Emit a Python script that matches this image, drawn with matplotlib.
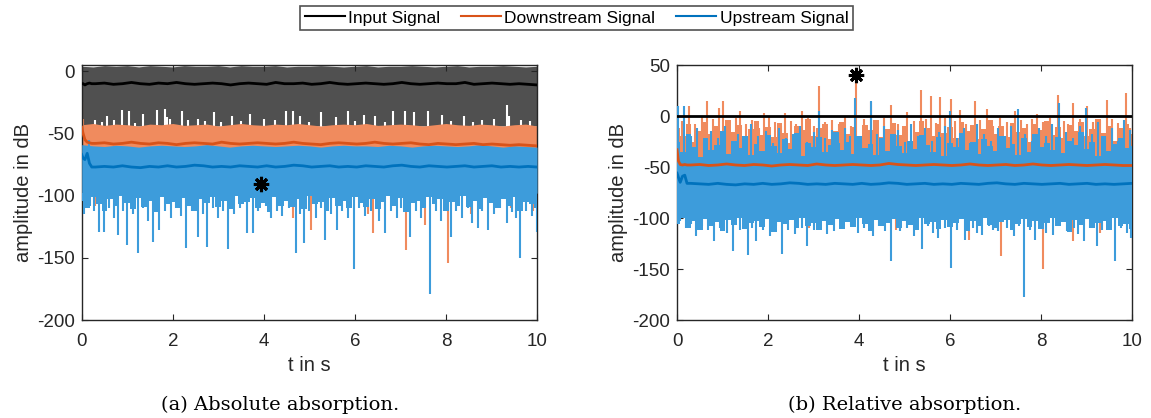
import numpy as np
import matplotlib
matplotlib.use("Agg")
import matplotlib.pyplot as plt

plt.rcParams['font.family'] = ['Liberation Sans', 'DejaVu Sans']
plt.rcParams['axes.unicode_minus'] = False

# time grids (s)
t_env = np.linspace(0, 10, 41)
t_hair = np.linspace(0, 10, 81)
t_mean = np.concatenate([[0, 0.03, 0.07, 0.12, 0.17, 0.22], np.linspace(0.3, 10, 50)])

# ---------------- (a) absolute ----------------
grey_top_a = [4, 3.5, 4.5, 4, 4.5, 3.5, 4.5, 4, 3.5, 4.5, 4, 4, 4.5, 3.5, 4.5, 4, 4, 4.5, 3.5, 4,
              4, 4.5, 4, 3.5, 4, 4.5, 3.5, 4, 4, 4.5, 4, 3.5, 4, 4.5, 3.5, 4, 4, 4.5, 4, 3.5, 4]
grey_floor_a = -44
# white gaps along the lower edge of the input signal (t, top of gap)
grey_gaps_a = [(0.29, -39), (0.56, -36), (0.70, -39), (0.88, -31), (1.03, -32), (1.17, -42),
               (1.35, -34), (1.66, -31), (1.82, -30), (1.88, -37), (1.93, -38), (2.21, -32),
               (2.33, -39), (2.56, -38), (2.91, -33), (3.30, -36), (3.70, -34), (4.01, -38),
               (4.24, -39), (4.48, -32), (4.64, -32), (4.79, -36), (5.26, -33), (5.58, -37),
               (5.85, -32), (6.20, -35), (6.44, -36), (6.83, -32), (7.10, -32), (7.30, -33),
               (7.61, -32), (7.92, -35), (8.39, -36), (8.79, -39), (9.06, -38), (9.33, -27),
               (9.38, -36), (9.65, -39), (0.45, -41), (2.70, -40), (3.05, -41), (3.50, -40),
               (5.00, -41), (6.00, -40), (6.65, -41), (8.10, -40), (8.60, -41), (9.85, -40)]

orange_top_a = [-43, -42, -43.5, -42.5, -43, -44, -42.5, -43, -42, -43.5,
                -43, -42.5, -44, -43, -42, -43, -43.5, -42.5, -43, -42,
                -43, -44, -43, -42.5, -43, -42, -43.5, -43, -42.5, -43,
                -44, -43, -42, -43, -43.5, -42.5, -43, -44, -43, -42.5, -44]
orange_floor_a = -62
orange_up_a = [(0.01, -25), (0.03, -38)]
orange_dn_a = [(0.30, -108), (1.90, -107), (3.92, -107), (4.65, -118), (5.03, -128),
               (6.28, -115), (6.40, -130), (7.13, -144), (7.53, -124), (8.04, -154),
               (8.55, -115), (9.42, -110), (9.90, -112)]

blue_top_a = [-59, -60, -60.5, -59.5, -60, -61, -60, -59.5, -60, -60.5,
              -60, -59, -60, -61, -60, -59.5, -60, -60.5, -60, -59.5,
              -60, -61, -60, -59.5, -60, -60, -60.5, -59.5, -60, -61,
              -60, -59.5, -60, -60.5, -60, -59, -60, -61, -60, -60.5, -61]
blue_core_a = -98
blue_bot_a = [-104, -110, -101, -107, -112, -103, -108, -100, -106, -111,
              -102, -109, -104, -113, -101, -107, -105, -110, -102, -108,
              -112, -103, -106, -101, -109, -104, -111, -100, -107, -105,
              -102, -110, -106, -113, -101, -108, -104, -109, -103, -111,
              -100, -107, -105, -112, -102, -108, -104, -110, -101, -106,
              -109, -103, -111, -105, -100, -108, -102, -113, -106, -104,
              -110, -101, -107, -103, -112, -105, -108, -100, -109, -104,
              -111, -102, -106, -110, -103, -108, -101, -112, -105, -107, -110]
blue_up_a = [(0.17, -55)]
blue_dn_a = [(0.05, -115), (0.18, -108), (0.28, -112), (0.37, -129), (0.49, -129), (0.60, -110),
             (0.70, -118), (0.80, -132), (0.90, -112), (1.00, -140), (1.12, -115), (1.23, -146),
             (1.35, -110), (1.45, -120), (1.57, -137), (1.70, -128), (1.82, -112), (1.95, -118),
             (2.08, -110), (2.18, -116), (2.29, -142), (2.42, -112), (2.56, -133), (2.66, -115),
             (2.76, -141), (2.88, -110), (3.00, -118), (3.10, -112), (3.21, -143), (3.35, -115),
             (3.48, -110), (3.62, -130), (3.77, -130), (3.88, -112), (4.05, -108), (4.15, -118),
             (4.28, -112), (4.40, -116), (4.55, -110), (4.70, -146), (4.80, -115), (4.89, -138),
             (5.00, -112), (5.15, -118), (5.25, -110), (5.34, -136), (5.48, -115), (5.61, -128),
             (5.72, -112), (5.85, -118), (5.99, -159), (6.10, -110), (6.22, -116), (6.35, -112),
             (6.52, -120), (6.67, -130), (6.80, -112), (6.92, -118), (7.02, -110), (7.22, -133),
             (7.35, -112), (7.45, -118), (7.65, -179), (7.78, -112), (7.90, -120), (8.10, -133),
             (8.22, -112), (8.35, -118), (8.48, -110), (8.58, -122), (8.70, -126), (8.80, -112),
             (8.92, -128), (9.05, -115), (9.18, -110), (9.33, -122), (9.45, -113), (9.53, -118),
             (9.63, -150), (9.75, -112), (9.88, -116), (9.99, -129)]

input_mean_a = [-10, -10, -11, -10, -9.5, -10,
                -10, -9.5, -10.5, -10, -9, -10, -10.5, -9.5, -10, -9,
                -10, -10.5, -10, -9.5, -10, -11, -10, -9.5, -10, -10.5,
                -9, -10, -10, -9.5, -10.5, -10, -9, -10, -10.5, -10,
                -9.5, -10, -10.5, -10, -9, -10, -10.5, -10, -9.5, -10,
                -10, -9, -10.5, -10, -9.5, -10, -10.5, -10, -10.5, -11]
down_mean_a = [-45, -50, -55, -57, -57.5, -58,
               -58, -57.5, -58.5, -58, -57, -58, -58.5, -57.5, -58, -59,
               -58, -57.5, -58, -58.5, -57, -58, -58.5, -58, -57.5, -58,
               -58.5, -58, -57, -58, -58.5, -59, -58, -57.5, -58, -58.5,
               -58, -57, -58, -58.5, -58, -57.5, -58.5, -59, -58, -58.5,
               -59, -58.5, -58, -59, -58.5, -59, -59.5, -59, -59.5, -60]
up_mean_a = [-67, -70, -71, -66, -74, -77,
             -77, -76.5, -77, -76, -77, -77.5, -76.5, -77, -76, -77,
             -76.5, -75.5, -76, -77, -76.5, -77, -76, -76.5, -77, -76,
             -77, -76.5, -75.5, -76, -77, -76.5, -76, -77, -76.5, -77,
             -76, -76.5, -77, -76, -75.5, -76.5, -77, -76, -76.5, -77,
             -76.5, -76, -77, -76.5, -76, -77, -76.5, -77, -76.5, -77]
marker_a = (3.93, -91)

# ---------------- (b) relative ----------------
input_b_t = [0, 10]
input_b = [0.0, 0.0]

orange_floor_b = -52
orange_core_b = -34
orange_top_b = [-12, -20, -8, -25, -15, -6, -18, -10, -22, -4,
                -16, -9, -24, -13, -5, -19, -11, -21, -7, -17,
                -26, -10, -14, -3, -20, -12, -8, -23, -15, -6,
                -18, -11, -25, -9, -14, -4, -21, -13, -7, -19,
                -10, -24, -16, -5, -12, -20, -8, -17, -11, -22,
                -6, -15, -9, -23, -13, -4, -18, -10, -21, -7,
                -16, -12, -25, -8, -14, -5, -19, -11, -22, -9,
                -15, -6, -20, -13, -3, -17, -10, -24, -12, -8, -18]
orange_up_b = [(0.10, -5), (0.26, 10), (0.40, -8), (0.55, 0), (0.66, 15), (0.80, -3), (0.92, 8),
               (1.02, 15), (1.15, -10), (1.30, -2), (1.38, 5), (1.52, -8), (1.65, -4), (1.80, -12),
               (1.92, 3), (2.02, 0), (2.15, -6), (2.28, -10), (2.38, 3), (2.50, -5), (2.62, -8),
               (2.74, 5), (2.88, -2), (3.00, -10), (3.11, 29), (3.25, -6), (3.40, -4), (3.55, -8),
               (3.70, 0), (3.82, -10), (3.93, 38), (4.10, -3), (4.26, 14), (4.40, -6), (4.55, -2),
               (4.70, 11), (4.85, -8), (5.06, 4), (5.20, -5), (5.36, 26), (5.48, -3), (5.58, 20),
               (5.70, -7), (5.78, 19), (5.90, -2), (6.02, 17), (6.12, -5), (6.22, 6), (6.35, -8),
               (6.54, 15), (6.65, -4), (6.82, 7), (6.95, -10), (7.10, -2), (7.25, -6), (7.42, 5),
               (7.55, -4), (7.70, -8), (7.80, -3), (7.92, 2), (8.05, -6), (8.20, -2), (8.38, 21),
               (8.50, -5), (8.60, -8), (8.70, 13), (8.85, -3), (9.02, 10), (9.15, -6), (9.30, -4),
               (9.44, 16), (9.55, -3), (9.70, -7), (9.86, 23), (9.96, -12)]
orange_dn_b = [(2.90, -110), (4.82, -112), (6.42, -122), (7.12, -137), (8.04, -150),
               (8.71, -123), (9.30, -115)]

blue_core_top_b = -45
blue_core_bot_b = -97
blue_top_b = [-25, -35, -18, -30, -40, -22, -33, -28, -15, -37,
              -24, -31, -20, -38, -27, -34, -19, -29, -36, -23,
              -32, -17, -39, -26, -30, -21, -35, -28, -16, -33,
              -25, -37, -20, -31, -27, -38, -22, -34, -18, -29,
              -36, -24, -32, -19, -28, -35, -21, -39, -26, -30,
              -17, -33, -25, -37, -23, -29, -34, -20, -31, -27,
              -38, -22, -35, -18, -30, -26, -33, -21, -36, -24,
              -28, -16, -32, -25, -39, -20, -34, -27, -22, -31, -29]
blue_bot_b = [-106, -100, -110, -103, -112, -101, -108, -104, -113, -102,
              -107, -100, -111, -105, -103, -109, -101, -114, -104, -106,
              -102, -110, -100, -108, -105, -112, -103, -107, -101, -111,
              -104, -109, -100, -106, -113, -102, -108, -105, -101, -110,
              -103, -107, -112, -100, -106, -104, -111, -102, -109, -105,
              -101, -113, -103, -108, -100, -107, -110, -104, -102, -112,
              -106, -101, -109, -103, -111, -105, -100, -108, -104, -114,
              -102, -107, -101, -110, -105, -103, -112, -100, -108, -106, -111]
blue_up_b = [(0.02, 10), (0.15, 10), (0.30, -20), (0.45, -12), (0.60, -25), (0.75, -15),
             (0.90, -22), (1.05, -10), (1.20, -28), (1.35, -18), (1.50, -24), (1.62, -8),
             (1.78, -20), (1.95, -15), (2.10, -26), (2.25, -12), (2.40, -22), (2.55, -18),
             (2.70, -10), (2.85, -25), (3.00, -16), (3.11, 5), (3.25, -22), (3.40, -14),
             (3.55, -26), (3.70, -12), (3.80, -20), (3.91, 18), (4.05, -24), (4.27, 15),
             (4.40, -18), (4.55, -10), (4.70, -22), (4.85, -14), (5.00, -25), (5.15, -8),
             (5.30, -20), (5.45, -12), (5.60, -24), (5.75, -16), (5.88, -10), (6.00, 5),
             (6.15, -22), (6.30, -12), (6.45, -26), (6.60, -8), (6.75, -18), (6.90, -24),
             (7.05, -12), (7.20, -20), (7.35, -10), (7.50, 7), (7.65, -18), (7.80, -24),
             (7.95, -12), (8.10, -20), (8.25, -8), (8.40, 13), (8.55, -16), (8.70, -22),
             (8.85, -10), (8.98, 8), (9.12, -18), (9.25, -6), (9.40, -20), (9.55, -12),
             (9.70, -24), (9.82, -4), (9.95, -14)]
blue_dn_b = [(0.06, -103), (0.20, -110), (0.30, -106), (0.42, -118), (0.55, -108), (0.68, -112),
             (0.82, -123), (0.95, -110), (1.10, -115), (1.22, -132), (1.38, -112), (1.55, -136),
             (1.65, -110), (1.74, -123), (1.90, -112), (2.05, -118), (2.18, -108), (2.30, -135),
             (2.45, -112), (2.60, -116), (2.75, -110), (2.86, -127), (3.00, -112), (3.15, -108),
             (3.30, -116), (3.46, -113), (3.60, -110), (3.82, -107), (3.98, -115), (4.12, -110),
             (4.30, -118), (4.45, -108), (4.58, -113), (4.70, -142), (4.90, -113), (5.05, -110),
             (5.20, -118), (5.38, -130), (5.52, -108), (5.62, -115), (5.74, -120), (5.88, -110),
             (6.02, -149), (6.15, -112), (6.34, -122), (6.50, -110), (6.60, -115), (6.70, -117),
             (6.85, -108), (6.95, -112), (7.06, -113), (7.25, -110), (7.40, -118), (7.52, -108),
             (7.63, -177), (7.75, -112), (7.86, -122), (8.00, -110), (8.12, -115), (8.26, -117),
             (8.40, -108), (8.58, -113), (8.72, -110), (8.82, -116), (8.94, -123), (9.08, -110),
             (9.22, -127), (9.35, -112), (9.50, -108), (9.62, -142), (9.75, -110), (9.88, -115),
             (9.98, -120)]

down_mean_b = [-33, -44, -47.5, -48, -47.5, -48,
               -48, -47.5, -48.5, -48, -47, -48, -48.5, -47.5, -48, -49,
               -48, -47.5, -48, -48.5, -47, -48, -48.5, -48, -47.5, -48,
               -48.5, -48, -46.5, -47.5, -48, -48.5, -48, -47.5, -48, -48.5,
               -48, -47, -48, -48.5, -48, -47.5, -48.5, -48, -47, -48,
               -48.5, -48, -47.5, -48, -48.5, -48, -47.5, -48, -48.5, -48.5]
up_mean_b = [-56, -60, -65, -59, -58, -66,
             -66, -66.5, -67, -66, -67, -67.5, -66.5, -67, -66, -67,
             -66.5, -65.5, -66, -67, -66.5, -67, -66, -66.5, -67, -66,
             -67, -66.5, -65.5, -66, -67, -66.5, -66, -67, -66.5, -67,
             -66, -66.5, -67, -66, -65.5, -66.5, -67, -66, -66.5, -67,
             -66.5, -66, -67, -66.5, -66, -67, -66.5, -67, -66.5, -66]
marker_b = (3.93, 40)

# colours
c_grey = '#505050'
c_orange_l = '#F08B5E'
c_blue_l = '#3D9CDB'
c_orange = '#D95319'
c_blue = '#0072BD'
c_axis = '#262626'
spike_lw = 1.5


def spikes(ax, pairs, base, color, z):
    t, v = np.array(pairs).T
    ax.vlines(t, base, v, color=color, lw=spike_lw, zorder=z)


def ragged(ax, base, values, color, z):
    # ragged band edge: stepped fill from the dense core out to each sample
    ax.fill_between(t_hair, base, values, step='mid', color=color, lw=0, zorder=z)


def style(ax, ylim, yticks):
    ax.set_xlim(0, 10)
    ax.set_ylim(*ylim)
    ax.set_xticks(np.arange(0, 11, 2))
    ax.set_yticks(yticks)
    ax.tick_params(direction='in', top=True, right=True, length=4, width=0.8,
                   color=c_axis, labelcolor=c_axis, labelsize=13.5)
    ax.tick_params(axis='x', pad=9)
    ax.tick_params(axis='y', pad=5)
    for s in ax.spines.values():
        s.set_color(c_axis)
        s.set_linewidth(1.0)
    ax.set_xlabel('t in s', fontsize=14.5, color=c_axis, labelpad=5)
    ax.set_ylabel('amplitude in dB', fontsize=14.5, color=c_axis, labelpad=3)


fig = plt.figure(figsize=(11.51, 4.18), dpi=100)
ax_a = fig.add_axes([0.0710, 0.2344, 0.3956, 0.6100])
ax_b = fig.add_axes([0.5882, 0.2344, 0.3953, 0.6100])

# (a) absolute absorption
ax_a.fill_between(t_env, grey_floor_a, grey_top_a, color=c_grey, lw=0, zorder=1)
gt, gv = np.array(grey_gaps_a).T
ax_a.vlines(gt, grey_floor_a - 2, gv, color='white', lw=spike_lw, zorder=1.5)
ax_a.fill_between(t_env, orange_floor_a, orange_top_a, color=c_orange_l, lw=0, zorder=2)
spikes(ax_a, orange_up_a, -50, c_orange_l, 2)
spikes(ax_a, orange_dn_a, orange_floor_a, c_orange_l, 2)
ax_a.fill_between(t_env, blue_core_a, blue_top_a, color=c_blue_l, lw=0, zorder=3)
ragged(ax_a, blue_core_a, blue_bot_a, c_blue_l, 3)
spikes(ax_a, blue_up_a, -62, c_blue_l, 3)
spikes(ax_a, blue_dn_a, blue_core_a, c_blue_l, 3)
ax_a.plot(t_mean, input_mean_a, color='black', lw=2, zorder=5)
ax_a.plot(t_mean, down_mean_a, color=c_orange, lw=2, zorder=5)
ax_a.plot(t_mean, up_mean_a, color=c_blue, lw=2, zorder=5)
ax_a.plot(*marker_a, marker=(8, 2, 0), ms=11, mew=2.2, color='black', zorder=6)
style(ax_a, (-200, 5), [-200, -150, -100, -50, 0])

# (b) relative absorption
ax_b.fill_between([0, 10], orange_floor_b, orange_core_b, color=c_orange_l, lw=0, zorder=2)
ragged(ax_b, orange_core_b, orange_top_b, c_orange_l, 2)
spikes(ax_b, orange_up_b, orange_core_b, c_orange_l, 2)
spikes(ax_b, orange_dn_b, -95, c_orange_l, 2)
ax_b.fill_between([0, 10], blue_core_bot_b, blue_core_top_b, color=c_blue_l, lw=0, zorder=3)
ragged(ax_b, blue_core_top_b, blue_top_b, c_blue_l, 3)
ragged(ax_b, blue_core_bot_b, blue_bot_b, c_blue_l, 3)
spikes(ax_b, blue_up_b, blue_core_top_b, c_blue_l, 3)
spikes(ax_b, blue_dn_b, blue_core_bot_b, c_blue_l, 3)
ax_b.plot(input_b_t, input_b, color='black', lw=2, zorder=5)
ax_b.plot(t_mean, down_mean_b, color=c_orange, lw=2, zorder=5)
ax_b.plot(t_mean, up_mean_b, color=c_blue, lw=2, zorder=5)
ax_b.plot(*marker_b, marker=(8, 2, 0), ms=11, mew=2.2, color='black', zorder=6, clip_on=False)
style(ax_b, (-200, 50), [-200, -150, -100, -50, 0, 50])

# shared legend
handles = [plt.Line2D([], [], color='black', lw=1.5),
           plt.Line2D([], [], color=c_orange, lw=1.5),
           plt.Line2D([], [], color=c_blue, lw=1.5)]
leg = fig.legend(handles, ['Input Signal', 'Downstream Signal', 'Upstream Signal'],
                 loc='center', bbox_to_anchor=(0.5009, 0.957), ncol=3, fontsize=12.5,
                 frameon=True, fancybox=False, handlelength=2.3, handletextpad=0.2,
                 columnspacing=1.2, borderpad=0.25, borderaxespad=0)
leg.get_frame().set_edgecolor(c_axis)
leg.get_frame().set_linewidth(1.2)

fig.text(0.243, 0.031, '(a) Absolute absorption.', ha='center', va='center',
         family='DejaVu Serif', fontsize=14)
fig.text(0.786, 0.031, '(b) Relative absorption.', ha='center', va='center',
         family='DejaVu Serif', fontsize=14)

fig.savefig('out.png', dpi=100)
